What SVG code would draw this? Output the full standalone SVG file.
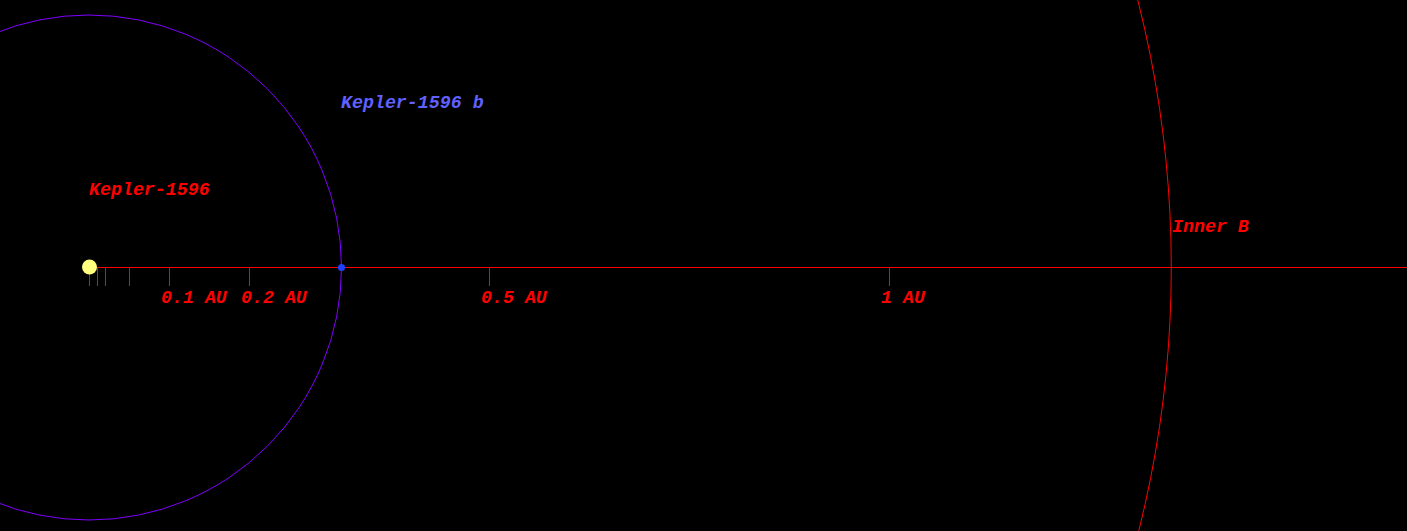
<svg xmlns="http://www.w3.org/2000/svg" width="1407" height="531" viewBox="0 0 1407 531">
<style>
.lbl{font-family:"Liberation Mono","DejaVu Sans Mono",monospace;font-size:18.3px;font-style:italic;font-weight:bold;fill:#ff0000}
.ax{stroke:#ff0000;stroke-width:1;fill:none}
</style>
<rect width="1407" height="531" fill="#000"/>
<g id="connectors">
<line class="ax" x1="89" y1="267.5" x2="1407" y2="267.5"/>
<line class="ax" x1="89.5" y1="267" x2="89.5" y2="286"/>
<line class="ax" x1="97.5" y1="267" x2="97.5" y2="286"/>
<line class="ax" x1="105.5" y1="267" x2="105.5" y2="286"/>
<line class="ax" x1="129.5" y1="267" x2="129.5" y2="286"/>
<line class="ax" x1="169.5" y1="267" x2="169.5" y2="286"/>
<line class="ax" x1="249.5" y1="267" x2="249.5" y2="286"/>
<line class="ax" x1="489.5" y1="267" x2="489.5" y2="286"/>
<line class="ax" x1="889.5" y1="267" x2="889.5" y2="286"/>
</g>
<g id="orbit-b"><circle cx="89" cy="267.5" r="252.5" fill="none" stroke="#8000ff" stroke-width="1"/></g>
<g id="inner-b"><circle cx="89" cy="267.5" r="1082.3" fill="none" stroke="#ff0000" stroke-width="1"/><text class="lbl" x="1172" y="232">Inner B</text></g>
<g id="star"><circle cx="89.5" cy="267" r="7.5" fill="#ffff80"/><text class="lbl" x="89" y="195">Kepler-1596</text></g>
<g id="planet"><circle cx="341.5" cy="267.5" r="3.5" fill="#2040ff"/><text class="lbl" x="341" y="108" style="fill:#6060ff">Kepler-1596 b</text></g>
<g id="scale">
<text class="lbl" x="161" y="303">0.1 AU</text>
<text class="lbl" x="241" y="303">0.2 AU</text>
<text class="lbl" x="481" y="303">0.5 AU</text>
<text class="lbl" x="881" y="303">1 AU</text>
</g>
</svg>
